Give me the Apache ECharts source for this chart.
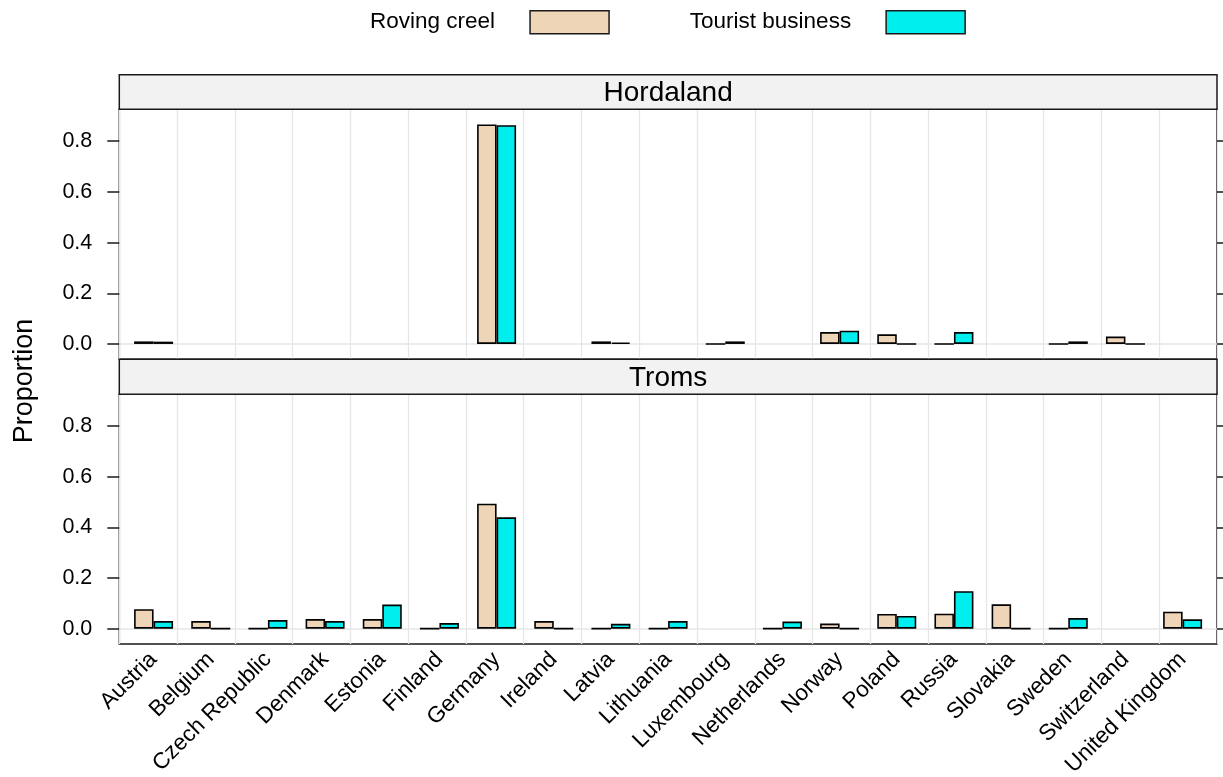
<!DOCTYPE html>
<html>
<head>
<meta charset="utf-8">
<script src="https://cdn.jsdelivr.net/npm/echarts@6/dist/echarts.min.js"></script>
<style>
  html, body { margin: 0; padding: 0; background: #fff; }
  #chart { width: 1223px; height: 777px; }
</style>
</head>
<body>
<div id="chart"></div>
<script>
// Countries along the x axis
const countries = ['Austria', 'Belgium', 'Czech Republic', 'Denmark', 'Estonia', 'Finland',
  'Germany', 'Ireland', 'Latvia', 'Lithuania', 'Luxembourg', 'Netherlands', 'Norway',
  'Poland', 'Russia', 'Slovakia', 'Sweden', 'Switzerland', 'United Kingdom'];

// Proportion of anglers by country, per region and survey method (null = not observed)
const hordalandRoving  = [0.010, null, null, null, null, null, 0.866, null, 0.010, null, 0, null, 0.047, 0.038, 0, null, 0, 0.029, null];
const hordalandTourist = [0.009, null, null, null, null, null, 0.863, null, 0.006, null, 0.010, null, 0.052, 0, 0.047, null, 0.010, 0, null];
const tromsRoving  = [0.077, 0.030, 0, 0.038, 0.038, 0, 0.494, 0.030, 0, 0, null, 0, 0.020, 0.058, 0.059, 0.096, 0, null, 0.067];
const tromsTourist = [0.030, 0, 0.034, 0.030, 0.095, 0.022, 0.440, 0, 0.019, 0.030, null, 0.028, 0, 0.050, 0.148, 0, 0.042, null, 0.037];

const seriesNames = ['Roving creel', 'Tourist business'];
const panelNames = ['Hordaland', 'Troms'];
const yTicks = [0, 0.2, 0.4, 0.6, 0.8];

const Y_MIN = -0.0606, Y_MAX = 0.926;
const FONT = 'Liberation Sans, Arial, sans-serif';
const COLORS = ['#EED5B7', '#00EEEE'];
const BORDER = '#1a1a1a';

// panel geometry
const PL = 119.3, PW = 1097.7;
const BAR_L = 125.0, BAR_W = 1086.2;
const panels = [
  { stripTop: 74.7, top: 109.3, height: 250 },
  { stripTop: 359.3, top: 394.3, height: 249.7 }
];

const chart = echarts.init(document.getElementById('chart'), null, { renderer: 'canvas' });

const grids = [], xAxes = [], yAxes = [], series = [], graphics = [];

panels.forEach((p, k) => {
  const gFrame = grids.length;
  grids.push({ left: PL, top: p.top, width: PW, height: p.height, show: true,
    outerBoundsMode: 'none', containLabel: false,
    borderColor: BORDER, borderWidth: 1.5, backgroundColor: 'transparent' });
  const gBar = grids.length;
  grids.push({ left: BAR_L, top: p.top, width: BAR_W, height: p.height,
    outerBoundsMode: 'none', containLabel: false });

  // frame axis: carries the vertical reference lines
  const xFrame = xAxes.length;
  xAxes.push({ type: 'category', gridIndex: gFrame, data: countries, boundaryGap: true,
    axisLine: { show: false }, axisTick: { show: false }, axisLabel: { show: false, interval: 0 },
    splitLine: { show: true, interval: 0, lineStyle: { color: '#e6e6e6', width: 1.3 } } });
  const xBar = xAxes.length;
  const isBottom = k === panels.length - 1;
  xAxes.push({ type: 'category', gridIndex: gBar, data: countries,
    axisLine: { show: false }, axisTick: { show: false },
    axisLabel: isBottom ? { show: true, rotate: 45, interval: 0, margin: 12,
      fontSize: 22.5, fontFamily: FONT, color: '#000' } : { show: false },
    splitLine: { show: false } });

  const yLeft = yAxes.length;
  yAxes.push({ type: 'value', gridIndex: gFrame, position: 'left', min: Y_MIN, max: Y_MAX,
    axisLine: { show: false },
    axisTick: { show: true, length: 12, customValues: yTicks, lineStyle: { color: BORDER, width: 1.5 } },
    axisLabel: { show: true, customValues: yTicks, margin: 27, fontSize: 21.5, fontFamily: FONT,
      color: '#000', formatter: v => v.toFixed(1) },
    splitLine: { show: false } });
  yAxes.push({ type: 'value', gridIndex: gFrame, position: 'right', min: Y_MIN, max: Y_MAX,
    axisLine: { show: false },
    axisTick: { show: true, length: 12, customValues: yTicks, lineStyle: { color: BORDER, width: 1.5 } },
    axisLabel: { show: false }, splitLine: { show: false } });
  const yBar = yAxes.length;
  yAxes.push({ type: 'value', gridIndex: gBar, min: Y_MIN, max: Y_MAX, show: false,
    splitLine: { show: false } });

  // reference line at zero, kept beneath the bars
  series.push({ type: 'line', xAxisIndex: xFrame, yAxisIndex: yLeft, data: countries.map(() => null),
    silent: true, showSymbol: false, z: 1,
    markLine: { silent: true, symbol: 'none', label: { show: false }, z: 1,
      lineStyle: { color: '#e6e6e6', width: 1.5, type: 'solid' }, data: [{ yAxis: 0 }] } });

  const vals = k === 0 ? [hordalandRoving, hordalandTourist] : [tromsRoving, tromsTourist];
  vals.forEach((arr, s) => {
    series.push({ type: 'bar', name: seriesNames[s], xAxisIndex: xBar, yAxisIndex: yBar,
      data: arr, barWidth: 19.5, barGap: '0%', z: 5,
      itemStyle: { color: COLORS[s], borderColor: '#000', borderWidth: 1.6 } });
  });

  // strip with panel name
  graphics.push({ type: 'rect', shape: { x: PL, y: p.stripTop, width: PW, height: p.top - p.stripTop },
    style: { fill: '#f2f2f2', stroke: BORDER, lineWidth: 1.5 }, z: 10 });
  graphics.push({ type: 'text', x: PL + PW / 2, y: (p.stripTop + p.top) / 2 + 1,
    style: { text: panelNames[k], font: '28px ' + FONT, fill: '#000', textAlign: 'center', textVerticalAlign: 'middle' }, z: 11 });
});

graphics.push({ type: 'text', x: 25, y: 381, rotation: Math.PI / 2,
  style: { text: 'Proportion', font: '27px ' + FONT, fill: '#000', textAlign: 'center', textVerticalAlign: 'middle' } });

chart.setOption({
  animation: false,
  backgroundColor: '#fff',
  textStyle: { fontFamily: FONT },
  legend: {
    data: seriesNames, left: 365, top: 5, orient: 'horizontal', align: 'right',
    itemWidth: 79, itemHeight: 23, itemGap: 80, icon: 'rect',
    itemStyle: { borderColor: BORDER, borderWidth: 1.5 },
    textStyle: { fontSize: 22.5, fontFamily: FONT, color: '#000', padding: [0, 30, 0, 0] },
    selectedMode: false
  },
  grid: grids,
  xAxis: xAxes,
  yAxis: yAxes,
  series: series,
  graphic: graphics
});
</script>
</body>
</html>
